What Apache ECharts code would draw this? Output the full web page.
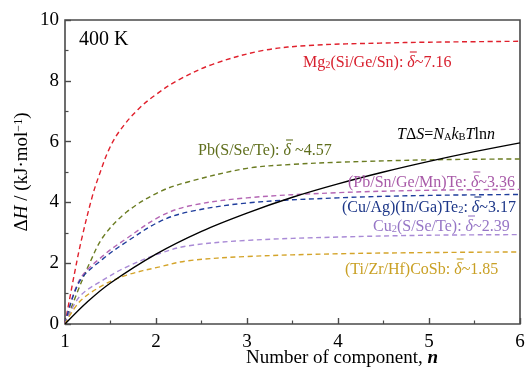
<!DOCTYPE html>
<html><head><meta charset="utf-8">
<script src="https://cdn.jsdelivr.net/npm/echarts@6/dist/echarts.min.js"></script>
<style>html,body{margin:0;padding:0;background:#fff}#c{width:531px;height:374px}</style>
</head><body><div id="c"></div>
<script>
// Data (n, ΔH in kJ/mol)
const nRed   = [1, 1.1, 1.18, 1.3, 1.37, 1.48, 1.6, 1.8, 2.0, 2.26, 2.63, 3.18, 3.73, 4.46, 5, 6];
const vRed   = [0, 1.6, 2.76, 4.2, 4.85, 5.72, 6.35, 7.05, 7.55, 8.05, 8.55, 9.0, 9.17, 9.24, 9.27, 9.3];
const nOlive = [1, 1.16, 1.27, 1.42, 1.68, 2.04, 2.36, 3, 3.5, 4, 5, 6];
const vOlive = [0, 1.23, 2.0, 2.87, 3.69, 4.35, 4.68, 5.12, 5.25, 5.32, 5.4, 5.43];
const nPink  = [1, 1.16, 1.42, 1.68, 2.04, 2.36, 3, 4, 5, 6];
const vPink  = [0, 1.45, 2.25, 2.82, 3.53, 3.88, 4.15, 4.32, 4.4, 4.43];
const nBlue  = [1, 1.16, 1.42, 1.68, 2.04, 2.36, 3, 4, 5, 6];
const vBlue  = [0, 1.4, 2.15, 2.71, 3.37, 3.69, 3.98, 4.15, 4.23, 4.26];
const nPurp  = [1, 1.16, 1.42, 1.68, 2.04, 2.35, 3, 4, 5, 6];
const vPurp  = [0, 0.9, 1.45, 1.88, 2.32, 2.57, 2.75, 2.86, 2.92, 2.94];
const nGold  = [1, 1.16, 1.42, 1.68, 2.04, 2.35, 3, 4, 5, 6];
const vGold  = [0, 0.73, 1.28, 1.61, 1.88, 2.08, 2.22, 2.31, 2.35, 2.37];
const nBlack = [1, 1.25, 1.5, 2, 2.5, 3, 3.5, 4, 4.5, 5, 5.5, 6];
const vBlack = [0, 0.74, 1.35, 2.3, 3.05, 3.65, 4.17, 4.61, 5.0, 5.35, 5.67, 5.96];
const xTicks = [1, 2, 3, 4, 5, 6];
const yTicks = [0, 2, 4, 6, 8, 10];

const FONT = 'Liberation Serif';
const FS = 16, SFS = 10.5;
const zip = (a, b) => a.map((x, i) => [x, b[i]]);
function dashed(n, v, color) {
  return {type:'line', data: zip(n, v), showSymbol:false, smooth:0.35,
    lineStyle:{color, width:1.4, type:[5,3.5]}, silent:true};
}
const ctx = document.createElement('canvas').getContext('2d');
function fontOf(k){
  if (k === 's') return SFS + 'px "' + FONT + '"';
  if (k === 'd' || k === 'i') return 'italic ' + FS + 'px "' + FONT + '"';
  return FS + 'px "' + FONT + '"';
}
function rich(color){
  return {
    a:{fontFamily:FONT, fontSize:FS, fill:color, color},
    s:{fontFamily:FONT, fontSize:SFS, fill:color, color, verticalAlign:'bottom'},
    d:{fontFamily:FONT, fontSize:FS, fontStyle:'italic', fill:color, color},
    i:{fontFamily:FONT, fontSize:FS, fontStyle:'italic', fill:color, color}
  };
}
// segs: [[styleKey, text], ...]; 'd' segments get an overline (δ-bar)
function label(x, y, segs, color){
  const text = segs.map(([k, t]) => '{' + k + '|' + t + '}').join('');
  const out = [{type:'text', x, y, z:10, style:{text, rich:rich(color), fill:color, align:'left', verticalAlign:'middle'}}];
  let w = 0;
  segs.forEach(([k, t]) => {
    ctx.font = fontOf(k);
    const tw = ctx.measureText(t).width;
    if (k === 'd') {
      out.push({type:'line', z:11, shape:{x1:x + w + 2.5, y1:y - 11, x2:x + w + tw + 2, y2:y - 11},
        style:{stroke:color, lineWidth:1.1}});
    }
    w += tw;
  });
  return out;
}
const chart = echarts.init(document.getElementById('c'));
chart.setOption({
  animation:false,
  backgroundColor:'#fff',
  grid:{left:65, right:11, top:20, bottom:50, show:true, borderColor:'#4a4a4a', borderWidth:1.6},
  xAxis:{type:'value', min:1, max:6, interval:1,
    axisLine:{show:false}, splitLine:{show:false},
    axisTick:{inside:true, length:6, lineStyle:{color:'#4a4a4a', width:1.4}},
    minorTick:{show:true, splitNumber:2, length:3.5, lineStyle:{color:'#4a4a4a', width:1.2}},
    axisLabel:{fontFamily:FONT, fontSize:19, color:'#000', margin:9,
      formatter:(v)=> xTicks.includes(v) ? String(v) : ''}},
  yAxis:{type:'value', min:0, max:10, interval:2,
    axisLine:{show:false}, splitLine:{show:false},
    axisTick:{inside:true, length:6, lineStyle:{color:'#4a4a4a', width:1.4}},
    minorTick:{show:true, splitNumber:2, length:3.5, lineStyle:{color:'#4a4a4a', width:1.2}},
    axisLabel:{fontFamily:FONT, fontSize:19, color:'#000', margin:6,
      formatter:(v)=> yTicks.includes(v) ? String(v) : ''}},
  series:[
    dashed(nRed, vRed, '#e0202c'),
    dashed(nOlive, vOlive, '#6b7c22'),
    dashed(nPink, vPink, '#b466b4'),
    dashed(nBlue, vBlue, '#1f3d9c'),
    dashed(nPurp, vPurp, '#a98ad6'),
    dashed(nGold, vGold, '#d4a42a'),
    {type:'line', data: zip(nBlack, vBlack), showSymbol:false, smooth:0.35,
      lineStyle:{color:'#000', width:1.4}, silent:true}
  ],
  graphic:[
    {type:'text', x:79, y:40, style:{text:'400 K', font:'20px "' + FONT + '"', fill:'#000', verticalAlign:'middle'}},
    {type:'text', x:342, y:358, style:{text:'{a|Number of component, }{i|n}', align:'center', verticalAlign:'middle', fill:'#000',
      rich:{a:{fontFamily:FONT, fontSize:19, fill:'#000'}, i:{fontFamily:FONT, fontSize:19, fontStyle:'italic', fontWeight:'bold', fill:'#000'}}}},
    {type:'text', x:22, y:172, rotation:Math.PI/2, style:{text:'{a|Δ}{i|H}{a| / (kJ·mol}{u|−1}{a|)}', align:'center', verticalAlign:'middle', fill:'#000',
      rich:{a:{fontFamily:FONT, fontSize:19, fill:'#000'}, i:{fontFamily:FONT, fontSize:19, fontStyle:'italic', fill:'#000'},
            u:{fontFamily:FONT, fontSize:12, fill:'#000', verticalAlign:'top'}}}},
    ...label(303, 63, [['a','Mg'],['s','2'],['a','(Si/Ge/Sn): '],['d','δ'],['a','~7.16']], '#d8202e'),
    ...label(397, 135, [['i','T'],['a','Δ'],['i','S'],['a','='],['i','N'],['s','A'],['i','k'],['s','B'],['i','T'],['a','ln'],['i','n']], '#000'),
    ...label(198, 151, [['a','Pb(S/Se/Te): '],['d','δ'],['a',' ~4.57']], '#5f6e1c'),
    ...label(348, 183, [['a','(Pb/Sn/Ge/Mn)Te: '],['d','δ'],['a','~3.36']], '#a85aa8'),
    ...label(342, 208, [['a','(Cu/Ag)(In/Ga)Te'],['s','2'],['a',': '],['d','δ'],['a','~3.17']], '#1c3688'),
    ...label(373, 227, [['a','Cu'],['s','2'],['a','(S/Se/Te): '],['d','δ'],['a','~2.39']], '#9676c6'),
    ...label(345, 270, [['a','(Ti/Zr/Hf)CoSb: '],['d','δ'],['a','~1.85']], '#c9a024')
  ]
});
</script>
</body></html>
